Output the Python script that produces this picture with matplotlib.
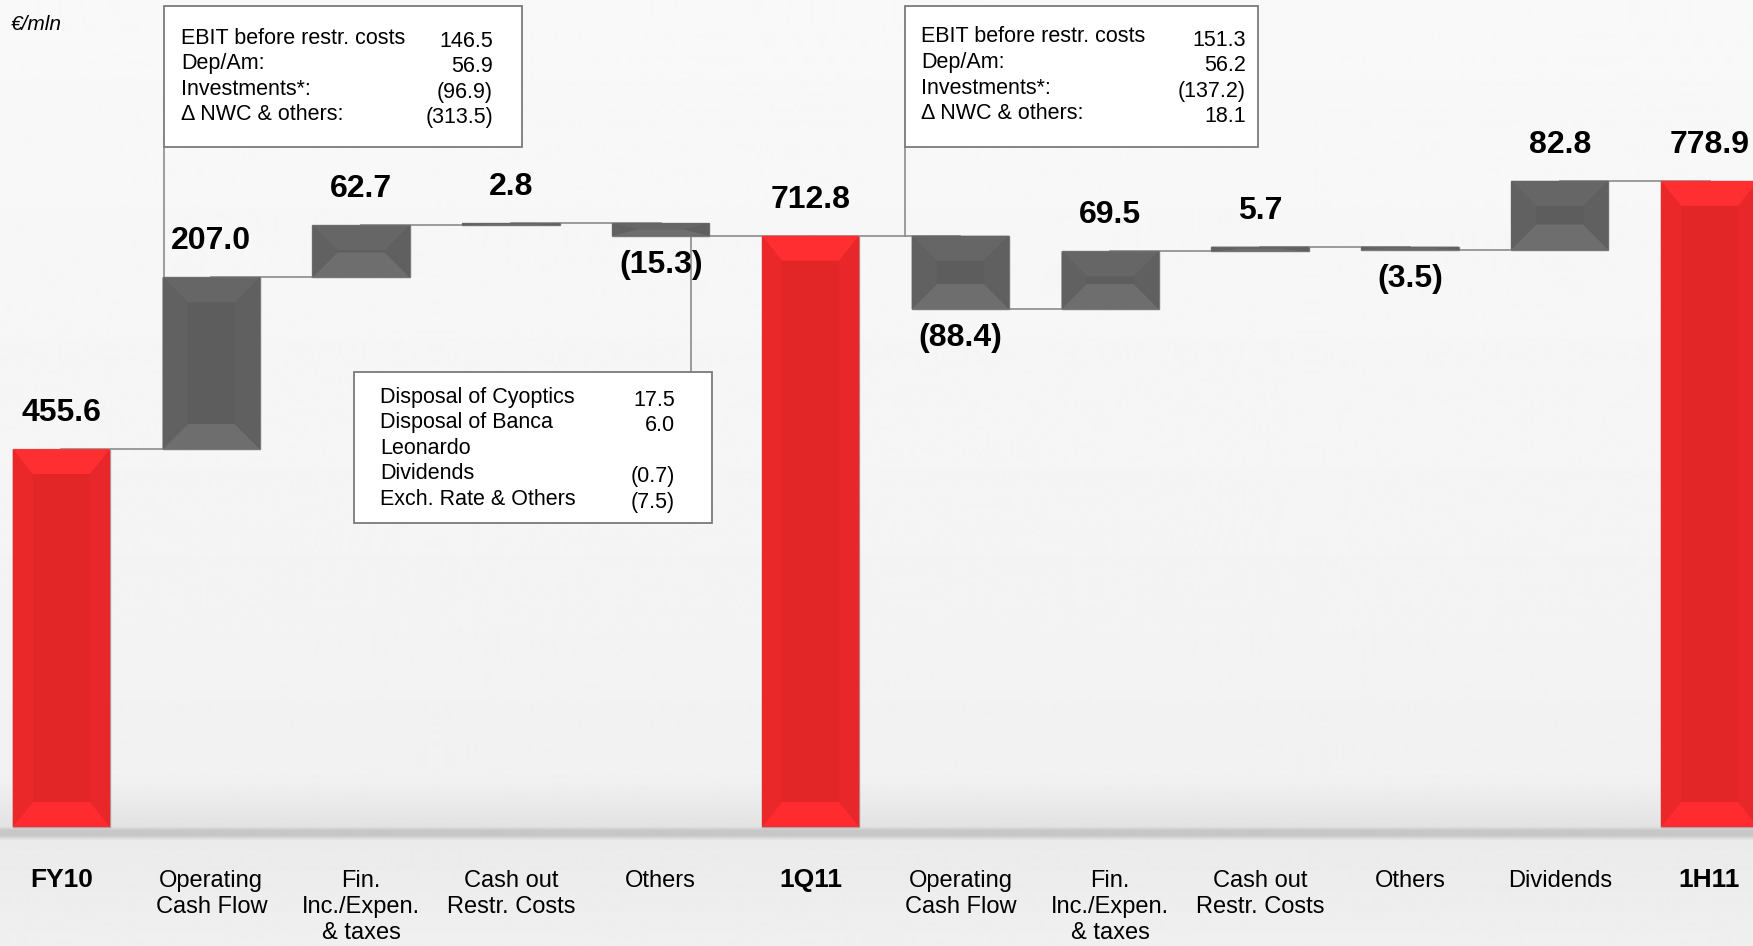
import numpy as np
import matplotlib
matplotlib.use('Agg')
from matplotlib import pyplot as plt
from matplotlib.patches import Polygon, Rectangle

# chart data
categories = ['FY10', 'Operating\nCash Flow', 'Fin.\nInc./Expen.\n& taxes', 'Cash out\nRestr. Costs', 'Others',
              '1Q11', 'Operating\nCash Flow', 'Fin.\nInc./Expen.\n& taxes', 'Cash out\nRestr. Costs', 'Others',
              'Dividends', '1H11']
values = [455.6, 207.0, 62.7, 2.8, -15.3, 712.8, -88.4, 69.5, 5.7, -3.5, 82.8, 778.9]
is_total = [True, False, False, False, False, True, False, False, False, False, False, True]
value_labels = ['455.6', '207.0', '62.7', '2.8', '(15.3)', '712.8', '(88.4)', '69.5', '5.7', '(3.5)', '82.8', '778.9']

box1_labels = ['EBIT before restr. costs', 'Dep/Am:', 'Investments*:', '\u0394 NWC & others:']
box1_values = ['146.5', '56.9', '(96.9)', '(313.5)']
box2_labels = ['EBIT before restr. costs', 'Dep/Am:', 'Investments*:', '\u0394 NWC & others:']
box2_values = ['151.3', '56.2', '(137.2)', '18.1']
box3_labels = ['Disposal of Cyoptics', 'Disposal of Banca', 'Leonardo', 'Dividends', 'Exch. Rate & Others']
box3_values = ['17.5', '6.0', '', '(0.7)', '(7.5)']

W, H = 1753, 946
plt.rcParams['font.family'] = ['Liberation Sans', 'DejaVu Sans']

fig = plt.figure(figsize=(W / 100, H / 100), dpi=100)
ax = fig.add_axes([0, 0, 1, 1])
xlim = (-0.41, 11.29)
ylim = (-143.5, 997)
ax.set_xlim(*xlim)
ax.set_ylim(*ylim)
ax.axis('off')

# background gradient with a baseline
rows = np.arange(H)
shade = np.interp(rows, [0, 500, 780, 826, 830, 835, 840, 946],
                  [0.975, 0.96, 0.945, 0.89, 0.78, 0.78, 0.92, 0.94])
bg = np.tile(shade[:, None], (1, 2))
ax.imshow(bg, cmap='gray', vmin=0, vmax=1, extent=(xlim[0], xlim[1], ylim[0], ylim[1]),
          aspect='auto', zorder=0, origin='upper')

# waterfall levels
lows, highs, ends = [], [], []
run = 0.0
for v, t in zip(values, is_total):
    if t:
        lo, hi = 0.0, v
        run = v
    else:
        lo, hi = sorted([run, run + v])
        run = run + v
    lows.append(lo)
    highs.append(hi)
    ends.append(run)

w = 0.65
px_y = H / (ylim[1] - ylim[0])
px_x = W / (xlim[1] - xlim[0])


def bevel_bar(xc, lo, hi, cols, edge, bpx_x, bpx_y):
    x0, x1 = xc - w / 2, xc + w / 2
    by = min(bpx_y / px_y, (hi - lo) / 2)
    bx = bpx_x / px_x
    xi0, xi1 = x0 + bx, x1 - bx
    yi0, yi1 = lo + by, hi - by
    center, top, bottom, left, right = cols
    ax.add_patch(Rectangle((x0, lo), w, hi - lo, facecolor=center, edgecolor=edge, lw=1.0, zorder=3))
    ax.add_patch(Polygon([(x0, hi), (x1, hi), (xi1, yi1), (xi0, yi1)], closed=True, facecolor=top, lw=0, zorder=3))
    ax.add_patch(Polygon([(x0, lo), (x1, lo), (xi1, yi0), (xi0, yi0)], closed=True, facecolor=bottom, lw=0, zorder=3))
    ax.add_patch(Polygon([(x0, lo), (x0, hi), (xi0, yi1), (xi0, yi0)], closed=True, facecolor=left, lw=0, zorder=3))
    ax.add_patch(Polygon([(x1, lo), (x1, hi), (xi1, yi1), (xi1, yi0)], closed=True, facecolor=right, lw=0, zorder=3))


red_cols = ('#e22527', '#ff2e31', '#ff2b2e', '#ea282a', '#e8272a')
gray_cols = ('#5d5d5d', '#666666', '#6e6e6e', '#616161', '#606060')

for i in range(len(values)):
    if is_total[i]:
        bevel_bar(i, lows[i], highs[i], red_cols, '#b0a0a0', 20, 25)
    else:
        bevel_bar(i, lows[i], highs[i], gray_cols, '#7a7a7a', 25, 25)

# connector lines between bars
for i in range(len(values) - 1):
    ax.plot([i, i + 1], [ends[i], ends[i]], color='#8c8c8c', lw=1.2, zorder=2)

# value labels
for i, lab in enumerate(value_labels):
    if values[i] >= 0:
        ax.annotate(lab, (i, highs[i]), xytext=(0, 26), textcoords='offset points',
                    ha='center', va='center', fontsize=23, fontweight='bold', zorder=5)
    else:
        ax.annotate(lab, (i, lows[i]), xytext=(0, -21), textcoords='offset points',
                    ha='center', va='center', fontsize=23, fontweight='bold', zorder=5)

# category labels
for i, cat in enumerate(categories):
    if is_total[i]:
        ax.text(i, -64, cat, ha='center', va='center', fontsize=19, fontweight='bold')
    else:
        ax.text(i, -52, cat, ha='center', va='top', fontsize=17, linespacing=1.22)

ax.text(0.006, 0.974, '\u20ac/mln', transform=ax.transAxes, fontsize=15, style='italic', va='center')

inv = ax.transData.inverted()


def to_data(px, py):
    return inv.transform((px, H - py))


def info_box(left, top, right, bottom, labels, vals, lab_x, val_x, row0, step):
    x0, y0 = to_data(left, bottom)
    x1, y1 = to_data(right, top)
    ax.add_patch(Rectangle((x0, y0), x1 - x0, y1 - y0, facecolor='white', edgecolor='#7a7a7a',
                           lw=1.3, zorder=4))
    for k, (lab, val) in enumerate(zip(labels, vals)):
        lx, ly = to_data(lab_x, row0 + k * step)
        vx, vy = to_data(val_x, row0 + k * step + 3)
        ax.text(lx, ly, lab, ha='left', va='center', fontsize=15.5, zorder=5)
        ax.text(vx, vy, val, ha='right', va='center', fontsize=15.5, zorder=5)
    return x0, y0, x1, y1


# callout boxes and their leader lines
bx0, by0, bx1, by1 = info_box(164, 6, 522, 147, box1_labels, box1_values, 181, 493, 38, 25.5)
ax.plot([bx0, bx0], [by0, highs[1]], color='#8c8c8c', lw=1.2, zorder=2)

bx0, by0, bx1, by1 = info_box(905, 6, 1258, 147, box2_labels, box2_values, 921, 1246, 37, 25.5)
ax.plot([bx0, bx0], [by0, highs[6]], color='#8c8c8c', lw=1.2, zorder=2)

bx0, by0, bx1, by1 = info_box(354, 372, 712, 523, box3_labels, box3_values, 380, 675, 397, 25.5)
lx, _ = to_data(691, 0)
ax.plot([lx, lx], [by1, lows[4]], color='#8c8c8c', lw=1.2, zorder=2)

fig.savefig('out.png', dpi=100)
